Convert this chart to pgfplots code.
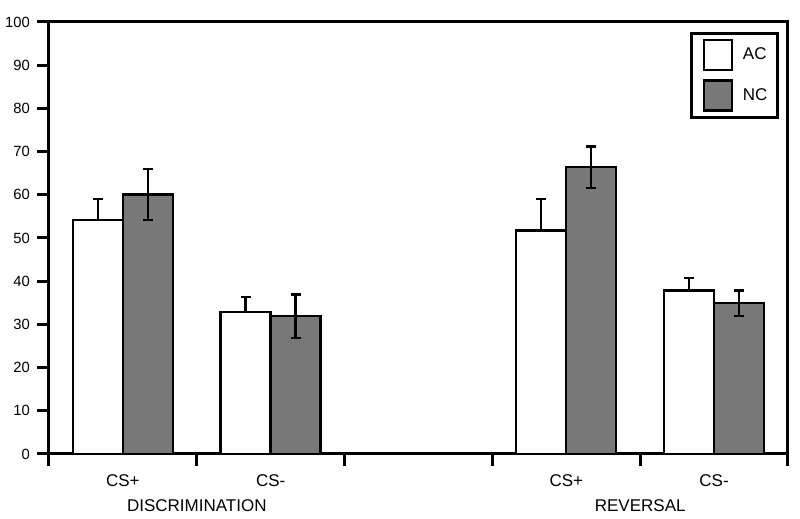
\documentclass[border=0pt]{standalone}
\usepackage{pgfplots}
\pgfplotsset{compat=1.18}
\usepackage{fontspec}
\setmainfont{Liberation Sans}
\definecolor{ncgray}{RGB}{120,120,120}

\begin{document}
\begin{tikzpicture}
\begin{axis}[
  scale only axis, width=369.5pt, height=216pt,
  at={(0,0)}, anchor=south west, clip=false,
  xmin=0, xmax=5, ymin=0, ymax=100,
  ybar=0pt, bar width=25pt,
  xtick={0,...,5}, xticklabels={},
  extra x ticks={0.5,1.5,3.5,4.5},
  extra x tick labels={CS+,CS-,CS+,CS-},
  extra x tick style={major tick length=0pt,
    tick label style={font=\fontsize{8.5}{10}\selectfont, inner sep=0pt, yshift=-10pt}},
  ytick={0,10,...,100},
  yticklabel style={font=\fontsize{7.4}{9}\selectfont},
  /pgf/number format/assume math mode=true,
  tick pos=left, tick align=outside,
  major tick length=6pt,
  axis line style={line width=1.5pt},
  every tick/.style={black, line width=1.5pt},
  legend image code/.code={
    \draw[#1, line width=1.2pt] (0pt,-7.5pt) rectangle (14pt,7.5pt);
    \path (-2.5pt,0pt) (17pt,0pt);},
  legend style={at={(1,1)}, anchor=north east, xshift=-4.5pt, yshift=-5pt,
    draw=black, line width=1.5pt, font=\fontsize{8.5}{10}\selectfont,
    inner xsep=3pt, inner ysep=2.75pt, row sep=4pt},
  legend cell align=left,
]
\addplot[fill=white, draw=black, line width=1.2pt,
  error bars/.cd, y dir=plus, y explicit,
  error bar style={line width=1.2pt, black},
  error mark options={rotate=90, mark size=2.5pt, line width=1.2pt, black}]
  coordinates {(0.5,54.2) +- (0,4.8) (1.5,32.9) +- (0,3.5) (3.5,51.7) +- (0,7.3) (4.5,37.8) +- (0,3.0)};
\addplot[fill=ncgray, draw=black, line width=1.2pt,
  error bars/.cd, y dir=both, y explicit,
  error bar style={line width=1.2pt, black},
  error mark options={rotate=90, mark size=2.5pt, line width=1.2pt, black}]
  coordinates {(0.5,60.1) +- (0,5.9) (1.5,31.9) +- (0,5.0) (3.5,66.4) +- (0,4.8) (4.5,34.9) +- (0,2.9)};
\legend{AC,NC}
\node[anchor=north, inner sep=0pt, font=\fontsize{8.5}{10}\selectfont] at (axis cs:1,0) [yshift=-22.5pt] {DISCRIMINATION};
\node[anchor=north, inner sep=0pt, font=\fontsize{8.5}{10}\selectfont] at (axis cs:4,0) [yshift=-22.5pt] {REVERSAL};
\end{axis}
\pgfresetboundingbox
\path[use as bounding box] (-24.5pt,-32.5pt) rectangle (375.5pt,227pt);
\end{tikzpicture}
\end{document}
